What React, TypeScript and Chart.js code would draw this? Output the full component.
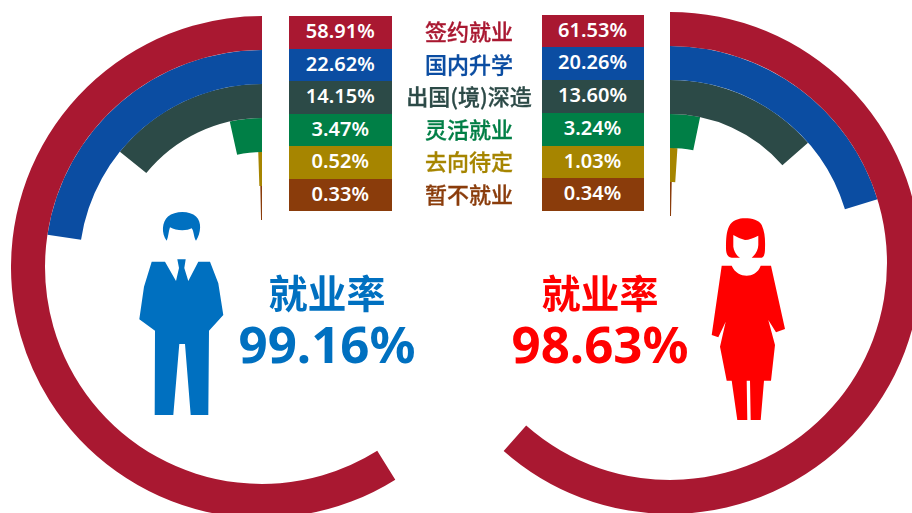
import React, { useEffect, useRef } from "react";
import { Chart, registerables } from "chart.js";

Chart.register(...registerables);

const categories = ["签约就业", "国内升学", "出国(境)深造", "灵活就业", "去向待定", "暂不就业"];
const maleValues = [58.91, 22.62, 14.15, 3.47, 0.52, 0.33];
const femaleValues = [61.53, 20.26, 13.6, 3.24, 1.03, 0.34];
const colors = ["#A91831", "#0B4DA2", "#2C4A47", "#007F46", "#A68500", "#8A3C0B"];
const rateTitle = "就业率";
const maleRate = "99.16%";
const femaleRate = "98.63%";

const TRANSPARENT = "rgba(0,0,0,0)";
const SANS = '"Noto Sans", "Noto Sans CJK SC", sans-serif';
const CJK = '"Noto Sans CJK SC", "Noto Sans", sans-serif';

function Ring({ values, reverse, left, top }: { values: number[]; reverse: boolean; left: number; top: number }) {
  const ref = useRef<HTMLCanvasElement>(null);
  useEffect(() => {
    const chart = new Chart(ref.current!, {
      type: "doughnut",
      data: {
        labels: reverse ? ["其他", "占比"] : ["占比", "其他"],
        datasets: values.map((v, i) => ({
          label: categories[i],
          data: reverse ? [100 - v, v] : [v, 100 - v],
          backgroundColor: reverse ? [TRANSPARENT, colors[i]] : [colors[i], TRANSPARENT],
          borderWidth: 0,
          hoverOffset: 0,
        })),
      },
      options: {
        responsive: false,
        animation: false,
        cutout: 47,
        events: [],
        layout: { padding: 0 },
        plugins: { legend: { display: false }, tooltip: { enabled: false } },
      },
    });
    return () => chart.destroy();
  }, []);
  return <canvas ref={ref} width={502} height={502} style={{ position: "absolute", left, top, width: 502, height: 502 }} />;
}

function Cells({ values, left, width, top }: { values: number[]; left: number; width: number; top: number }) {
  const h = (211 - top) / values.length;
  return (
    <>
      {values.map((v, i) => (
        <div
          key={i}
          style={{
            position: "absolute",
            left,
            top: top + h * i,
            width,
            height: h,
            background: colors[i],
            color: "#fff",
            textAlign: "center",
            font: `600 20px ${SANS}`,
          }}
        >
          <span style={{ lineHeight: `${h - 3}px`, display: "block" }}>{v.toFixed(2)}%</span>
        </div>
      ))}
    </>
  );
}

const MAN_BODY =
  "M151.7 261.7L165 261.7L176 281L179 268L177.3 259.3L185.7 259.3L184.3 268L188.3 281L198.3 261.7L210 261.7L218.3 283.3L223.3 315L209 330.7L208.3 415L190.7 415L185 344L179.3 344L173.3 415L154.7 415L155 330.7L139.3 319.3L144 286.7Z";
const MAN_HAIR =
  "M166.7 240.7C161 233 162 222 168 216.5C175 210.5 190 210.5 196 216.5C202 222 201 233 196 240.7C193.5 237 194 231 191.7 228.3C187 231 176 231 170 227.3C168.5 231 168.5 237 166.7 240.7Z";
const WOMAN_BODY =
  "M721.7 265.7L731.7 265.7C735 273 741 275.7 746.7 275.7C752 275.7 758 273 760.7 265.7L771 265.7L785 329L776 332.3L768.3 320L775 345L771 380.7L764 380.7L760.7 420L750.7 420L750 380.7L746.7 380.7L747.3 420L737.3 420L731.7 380.7L726.7 380.7L720 346.7L725.7 321.7L718.3 337.3L711.7 335Z";
const WOMAN_HAIR =
  "M731.7 257.7C727 257 726 253 726 248.3C726 238 726.5 232 729 226.5C732 220 739 218.3 745 218.3C752 218.3 759 220 761.7 225C765 232 765.3 240 765 248.3C765 254 764 257 761.7 257.7L751.7 257.7C755 255 758.3 250 758.3 245L758.3 235.7C753 238 749 240 745 240C741 239 737 237 733.3 235L733.3 246.7C734 252 737 256 740 257.7Z";

function Rate({ x, color, value }: { x: number; color: string; value: string }) {
  const base: React.CSSProperties = { position: "absolute", left: x - 120, width: 240, textAlign: "center", color, fontWeight: 700 };
  return (
    <>
      <div style={{ ...base, top: 266, height: 50, lineHeight: "50px", fontSize: 39, fontFamily: CJK }}>{rateTitle}</div>
      <div style={{ ...base, top: 308, height: 70, lineHeight: "70px", fontSize: 51, fontFamily: SANS }}>{value}</div>
    </>
  );
}

export default function App() {
  return (
    <div style={{ position: "fixed", left: 0, top: 0, width: 912, height: 513, overflow: "hidden", background: "#fff" }}>
      <Ring values={maleValues} reverse={true} left={11} top={16} />
      <Ring values={femaleValues} reverse={false} left={419} top={12} />
      <Cells values={maleValues} left={288.5} width={103.5} top={16} />
      <Cells values={femaleValues} left={541.5} width={102} top={14.5} />
      {categories.map((c, i) => (
        <div
          key={c}
          style={{
            position: "absolute",
            left: 389,
            width: 160,
            top: 15 + 32.6 * i,
            height: 32.6,
            lineHeight: "31px",
            textAlign: "center",
            color: colors[i],
            fontFamily: CJK,
            fontWeight: 500,
            fontSize: 22,
            whiteSpace: "nowrap",
            WebkitTextStroke: "0.3px currentColor",
          }}
        >
          {c}
        </div>
      ))}
      <svg width={912} height={513} style={{ position: "absolute", left: 0, top: 0 }}>
        <path d={MAN_BODY} fill="#0070C0" />
        <path d={MAN_HAIR} fill="#0070C0" />
        <path d={WOMAN_BODY} fill="#FF0000" />
        <path d={WOMAN_HAIR} fill="#FF0000" />
      </svg>
      <Rate x={327} color="#0070C0" value={maleRate} />
      <Rate x={600} color="#FF0000" value={femaleRate} />
    </div>
  );
}
